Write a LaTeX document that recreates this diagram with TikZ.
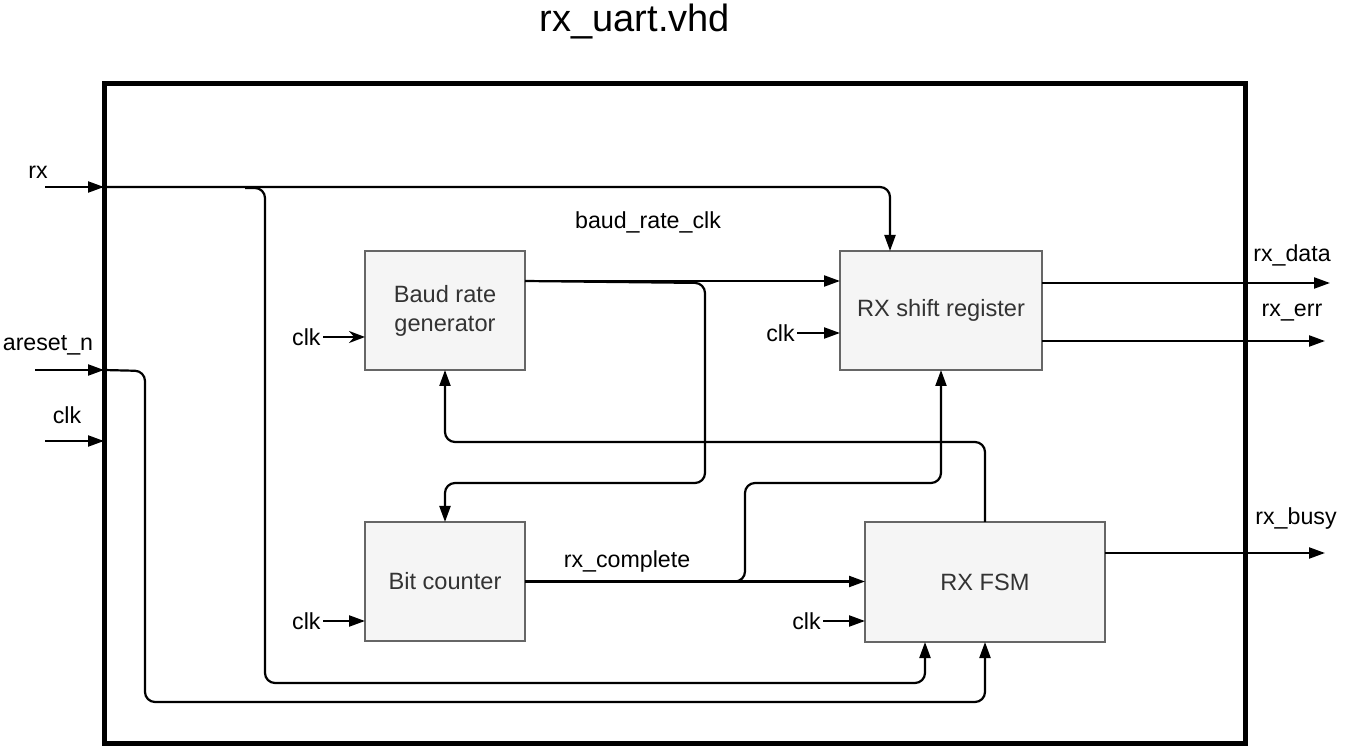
\documentclass[tikz,border=0pt]{standalone}
\usepackage{fontspec}
\setmainfont{Liberation Sans}
\usetikzlibrary{arrows.meta,calc,positioning}

\definecolor{blockfill}{HTML}{F5F5F5}
\definecolor{blockline}{HTML}{666666}
\definecolor{blocktext}{HTML}{333333}

\begin{document}
\begin{tikzpicture}[>={Triangle[length=8pt,width=5.5pt]}, x=0.5pt, y=-0.5pt,
		wire/.style={line width=1.1pt, rounded corners=5pt},
		block/.style={draw=blockline, line width=1pt, fill=blockfill, text=blocktext,
			align=center, inner sep=0pt, outer sep=0pt, minimum height=59.5pt,
			font=\fontsize{11.8}{14.5}\selectfont},
		sig/.style={font=\fontsize{11.6}{14}\selectfont, inner sep=1pt}]
		
		\useasboundingbox (0,0) rectangle (1350,748);
		
		% entity frame
		\node[draw, line width=2.5pt, inner sep=0pt, outer sep=0pt,
		minimum width=570.75pt, minimum height=329.5pt] (uart) at (674.75,413.5) {};
		\node[font=\fontsize{19}{22}\selectfont] (title) at (635,22) {rx\_uart.vhd};
		
		% blocks
		\node[block, minimum width=80pt] (baud) at (445,310.5) {Baud rate\\generator};
		\node[block, minimum width=101pt] (shift) at (941,310.5) {RX shift register};
		\node[block, minimum width=80pt] (bitcnt) at (445,581.5) {Bit counter};
		\node[block, minimum width=120pt, minimum height=60pt] (fsm) at (985,582) {RX FSM};
		
		% ports on the left
		\coordinate (rxin) at (45,187);
		\coordinate (rstin) at (35,370);
		\coordinate (clkin) at (45,441);
		\node[sig] (rxlbl) at (38,172) {rx};
		\node[sig] (rstlbl) at (48,345) {areset\_n};
		\node[sig] (clklbl) at (67,415) {clk};
		\draw[wire,->] (rxin) -- (rxin -| uart.west);
		\draw[wire,->] (rstin) -- (rstin -| uart.west);
		\draw[wire,->] (clkin) -- (clkin -| uart.west);
		
		% rx to shift register and fsm
		\coordinate (rxsplit) at (265,188);
		\coordinate (srrx) at ($(shift.north)+(-51,0)$);
		\coordinate (fsmrx) at ($(fsm.south)+(-60,0)$);
		\draw[wire,->] (rxin -| uart.west) -| (srrx);
		\draw[wire,->] (245,188) -- (rxsplit) -- (265,683) -| (fsmrx);
		
		% reset to fsm
		\draw[wire,->] (rstin -| uart.west) -- (145,371) -- (145,702) -| (fsm.south);
		
		% baud_rate_clk
		\coordinate (bout) at ($(baud.north east)+(0,30)$);
		\node[sig] (brlbl) at (648,222) {baud\_rate\_clk};
		\draw[wire,->] (bout) -- (bout -| shift.west);
		\draw[wire,->] (bout) -- (705,283) -- (705,483) -| (bitcnt.north);
		
		% fsm back to baud rate generator
		\draw[wire,->] (fsm.north) -- (985,442) -| (baud.south);
		
		% rx_complete
		\node[sig] (cplbl) at (627,562) {rx\_complete};
		\draw[wire,->] (bitcnt.east) -- (fsm.west |- bitcnt.east);
		\draw[wire,->] (725,581.5) -- (745,581.5) -- (745,483) -| (shift.south);
		
		% outputs
		\coordinate (dataout) at (1330,283);
		\coordinate (errout) at (1325,341);
		\coordinate (busyout) at (1325,553);
		\node[sig] (datalbl) at (1292,255) {rx\_data};
		\node[sig] (errlbl) at (1292,313) {rx\_err};
		\node[sig] (busylbl) at (1296,519) {rx\_busy};
		\draw[wire,->] (dataout -| shift.east) -- (dataout);
		\draw[wire,->] (errout -| shift.east) -- (errout);
		\draw[wire,->] (busyout -| fsm.east) -- (busyout);
		
		% local clocks
		\node[sig, anchor=east] (clkbaud) at (323,337) {clk};
		\node[sig, anchor=east] (clkshift) at (797,333) {clk};
		\node[sig, anchor=east] (clkbit) at (323,621) {clk};
		\node[sig, anchor=east] (clkfsm) at (823,621) {clk};
		\draw[wire,-{Stealth[length=8pt,width=6pt]}] (clkbaud) -- (clkbaud -| baud.west);
		\draw[wire,->] (clkshift) -- (clkshift -| shift.west);
		\draw[wire,->] (clkbit) -- (clkbit -| bitcnt.west);
		\draw[wire,->] (clkfsm) -- (clkfsm -| fsm.west);
		
	\end{tikzpicture}
\end{document}
